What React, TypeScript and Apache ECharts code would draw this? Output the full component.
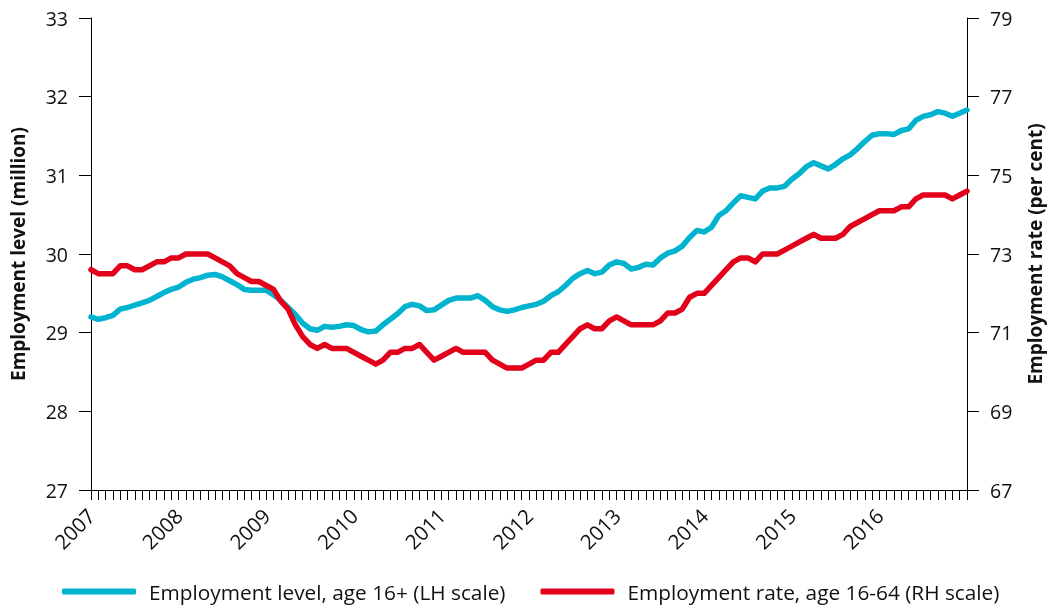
import React, { useEffect, useRef } from "react";
import * as echarts from "echarts";

const monthNames = ["Jan", "Feb", "Mar", "Apr", "May", "Jun", "Jul", "Aug", "Sep", "Oct", "Nov", "Dec"];
const years = ["2007", "2008", "2009", "2010", "2011", "2012", "2013", "2014", "2015", "2016", "2017"];
const categories: string[] = years.flatMap((y) => monthNames.map((m) => `${m} ${y}`)).slice(0, 121);

const employmentLevel = [
  29.20, 29.17, 29.19, 29.22, 29.30, 29.32, 29.35, 29.38, 29.41, 29.46,
  29.51, 29.55, 29.58, 29.64, 29.68, 29.70, 29.73, 29.74, 29.71, 29.66,
  29.61, 29.55, 29.54, 29.54, 29.54, 29.48, 29.41, 29.32, 29.23, 29.12,
  29.05, 29.03, 29.08, 29.07, 29.08, 29.10, 29.09, 29.04, 29.01, 29.02,
  29.10, 29.17, 29.24, 29.33, 29.36, 29.34, 29.28, 29.29, 29.35, 29.41,
  29.44, 29.44, 29.44, 29.47, 29.41, 29.33, 29.29, 29.27, 29.29, 29.32,
  29.34, 29.36, 29.40, 29.47, 29.52, 29.60, 29.69, 29.75, 29.79, 29.75,
  29.77, 29.86, 29.90, 29.88, 29.81, 29.83, 29.87, 29.86, 29.95, 30.01,
  30.04, 30.10, 30.21, 30.30, 30.28, 30.34, 30.49, 30.55, 30.65, 30.74,
  30.72, 30.70, 30.80, 30.84, 30.84, 30.86, 30.95, 31.02, 31.11, 31.16,
  31.12, 31.08, 31.14, 31.21, 31.26, 31.34, 31.43, 31.51, 31.53, 31.53,
  31.52, 31.57, 31.59, 31.70, 31.75, 31.77, 31.81, 31.79, 31.75, 31.79,
  31.83,
];

const employmentRate = [
  72.6, 72.5, 72.5, 72.5, 72.7, 72.7, 72.6, 72.6, 72.7, 72.8,
  72.8, 72.9, 72.9, 73.0, 73.0, 73.0, 73.0, 72.9, 72.8, 72.7,
  72.5, 72.4, 72.3, 72.3, 72.2, 72.1, 71.8, 71.6, 71.2, 70.9,
  70.7, 70.6, 70.7, 70.6, 70.6, 70.6, 70.5, 70.4, 70.3, 70.2,
  70.3, 70.5, 70.5, 70.6, 70.6, 70.7, 70.5, 70.3, 70.4, 70.5,
  70.6, 70.5, 70.5, 70.5, 70.5, 70.3, 70.2, 70.1, 70.1, 70.1,
  70.2, 70.3, 70.3, 70.5, 70.5, 70.7, 70.9, 71.1, 71.2, 71.1,
  71.1, 71.3, 71.4, 71.3, 71.2, 71.2, 71.2, 71.2, 71.3, 71.5,
  71.5, 71.6, 71.9, 72.0, 72.0, 72.2, 72.4, 72.6, 72.8, 72.9,
  72.9, 72.8, 73.0, 73.0, 73.0, 73.1, 73.2, 73.3, 73.4, 73.5,
  73.4, 73.4, 73.4, 73.5, 73.7, 73.8, 73.9, 74.0, 74.1, 74.1,
  74.1, 74.2, 74.2, 74.4, 74.5, 74.5, 74.5, 74.5, 74.4, 74.5,
  74.6,
];

const seriesNames = ["Employment level, age 16+ (LH scale)", "Employment rate, age 16-64 (RH scale)"];
const leftTitle = "Employment level (million)";
const rightTitle = "Employment rate (per cent)";

const FONT = "Open Sans";
const BLUE = "#00b4d0";
const RED = "#e2001a";

export default function App() {
  const ref = useRef<HTMLDivElement>(null);
  useEffect(() => {
    if (!ref.current) return;
    const chart = echarts.init(ref.current, undefined, { renderer: "svg" });
    const axisLine = { show: true, lineStyle: { color: "#000", width: 1 } };
    chart.setOption({
      animation: false,
      textStyle: { fontFamily: FONT },
      grid: { left: 91, right: 82, top: 18, bottom: 117, containLabel: false, outerBoundsMode: "none" },
      legend: {
        bottom: 0,
        left: 57,
        itemWidth: 74,
        itemHeight: 6,
        itemGap: 35,
        icon: "roundRect",
        textStyle: { fontFamily: FONT, fontSize: 20.8, color: "#111", padding: [0, 0, 0, 8] },
        data: [
          { name: seriesNames[0], itemStyle: { color: BLUE } },
          { name: seriesNames[1], itemStyle: { color: RED } },
        ],
      },
      xAxis: {
        type: "category",
        data: categories,
        boundaryGap: false,
        axisLine,
        axisTick: { show: true, interval: 0, length: 10, lineStyle: { color: "#000" } },
        axisLabel: {
          interval: (idx: number) => idx % 12 === 0 && idx < 120,
          formatter: (v: string) => v.split(" ")[1],
          rotate: 45,
          margin: 22,
          fontSize: 20.5,
          color: "#111",
          fontFamily: FONT,
        },
        splitLine: { show: false },
      },
      yAxis: [
        {
          type: "value",
          min: 27,
          max: 33,
          interval: 1,
          position: "left",
          name: leftTitle,
          nameLocation: "middle",
          nameRotate: 90,
          nameGap: 64,
          nameTextStyle: { fontFamily: FONT, fontSize: 19, fontWeight: "bold", color: "#111" },
          axisLine,
          axisTick: { show: true, length: 12, lineStyle: { color: "#000" } },
          axisLabel: { margin: 23, fontSize: 19.5, color: "#111", fontFamily: FONT },
          splitLine: { show: false },
        },
        {
          type: "value",
          min: 67,
          max: 79,
          interval: 2,
          position: "right",
          name: rightTitle,
          nameLocation: "middle",
          nameRotate: 90,
          nameGap: 58,
          nameTextStyle: { fontFamily: FONT, fontSize: 19, fontWeight: "bold", color: "#111" },
          axisLine,
          axisTick: { show: true, length: 12, lineStyle: { color: "#000" } },
          axisLabel: { margin: 23, fontSize: 19.5, color: "#111", fontFamily: FONT },
          splitLine: { show: false },
        },
      ],
      series: [
        {
          name: seriesNames[0],
          type: "line",
          yAxisIndex: 0,
          data: employmentLevel,
          showSymbol: false,
          symbol: "none",
          lineStyle: { color: BLUE, width: 5.5, cap: "round", join: "round" },
          itemStyle: { color: BLUE },
        },
        {
          name: seriesNames[1],
          type: "line",
          yAxisIndex: 1,
          data: employmentRate,
          showSymbol: false,
          symbol: "none",
          lineStyle: { color: RED, width: 5.5, cap: "round", join: "round" },
          itemStyle: { color: RED },
        },
      ],
    });
    return () => chart.dispose();
  }, []);
  return <div ref={ref} style={{ position: "fixed", left: 0, top: 0, width: 1049, height: 607 }} />;
}
